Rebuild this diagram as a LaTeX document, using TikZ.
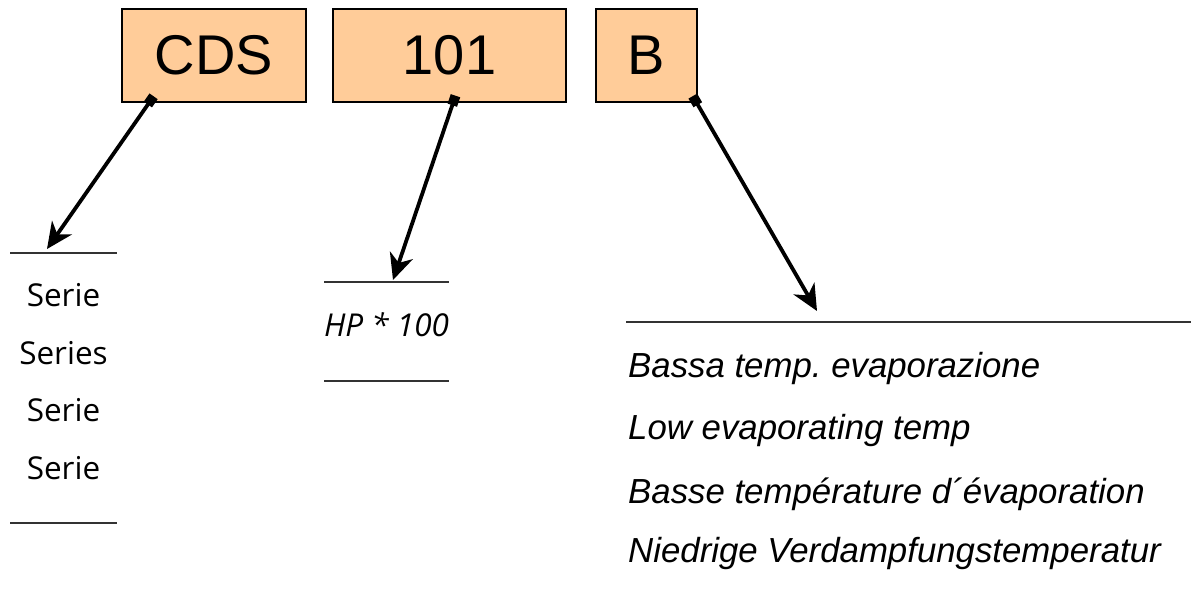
\documentclass[tikz,border=0pt]{standalone}
\usepackage{fontspec}
\setmainfont{Liberation Sans}
\newfontfamily\opensans{Open Sans}
\usetikzlibrary{arrows.meta,positioning}
\definecolor{peach}{HTML}{FFCC99}
\tikzset{
	codebox/.style={draw=black,line width=2pt,fill=peach,inner sep=0pt,minimum height=93pt,font=\fontsize{56}{60}\selectfont},
	leader/.style={line width=3.8pt,{Square[length=10pt,width=10pt]}-{Stealth[length=26pt,width=24pt,inset=8pt]}},
	rule/.style={black!80,line width=1.2pt},
	leftword/.style={anchor=base,inner sep=0pt,font=\opensans\fontsize{31.5}{36}\selectfont},
	rightword/.style={anchor=base west,inner sep=0pt,font=\itshape\fontsize{34.8}{40}\selectfont}
}

\begin{document}
\frenchspacing
\begin{tikzpicture}[x=1pt,y=-1pt]
	\useasboundingbox (0,0) rectangle (1199,590);
	\node[codebox,minimum width=184pt] (cds) at (214,55.5) {CDS};
	\node[codebox,minimum width=233pt] (num) at (449.5,55.5) {101};
	\node[codebox,minimum width=101pt] (temp) at (646.5,55.5) {B};

	\node[leftword] (serieA) at (63.5,306) {Serie};
	\node[leftword] (serieB) at (63.5,364) {Series};
	\node[leftword] (serieC) at (63.5,421) {Serie};
	\node[leftword] (serieD) at (63.5,479) {Serie};
	\coordinate (sTopL) at (10,253);
	\coordinate (sTopR) at (117,253);
	\coordinate (sBotL) at (10,523);
	\coordinate (sBotR) at (117,523);
	\draw[rule] (sTopL)--(sTopR);
	\draw[rule] (sBotL)--(sBotR);

	\node[leftword,font=\opensans\itshape\fontsize{31.5}{36}\selectfont] (hp) at (386.5,336) {HP * 100};
	\coordinate (hTopL) at (324,282);
	\coordinate (hTopR) at (449,282);
	\coordinate (hBotL) at (324,381);
	\coordinate (hBotR) at (449,381);
	\draw[rule] (hTopL)--(hTopR);
	\draw[rule] (hBotL)--(hBotR);

	\node[rightword] (bassa) at (628,377) {Bassa temp. evaporazione};
	\node[rightword] (low) at (628,439) {Low evaporating temp};
	\node[rightword] (basse) at (628,503) {Basse température d´évaporation};
	\node[rightword] (niedrig) at (628,562) {Niedrige Verdampfungstemperatur};
	\coordinate (bTopL) at (626,322);
	\coordinate (bTopR) at (1191,322);
	\draw[rule] (bTopL)--(bTopR);

	\coordinate (cdsTip) at (47,249);
	\coordinate (numTip) at (393,280);
	\coordinate (tempTip) at (817,311);
	\draw[leader] ([xshift=32.6pt,yshift=6.7pt]cds.south west)--(cdsTip);
	\draw[leader] ([xshift=123.5pt,yshift=7.3pt]num.south west)--(numTip);
	\draw[leader] ([xshift=97.8pt,yshift=6.9pt]temp.south west)--(tempTip);
\end{tikzpicture}
\end{document}
